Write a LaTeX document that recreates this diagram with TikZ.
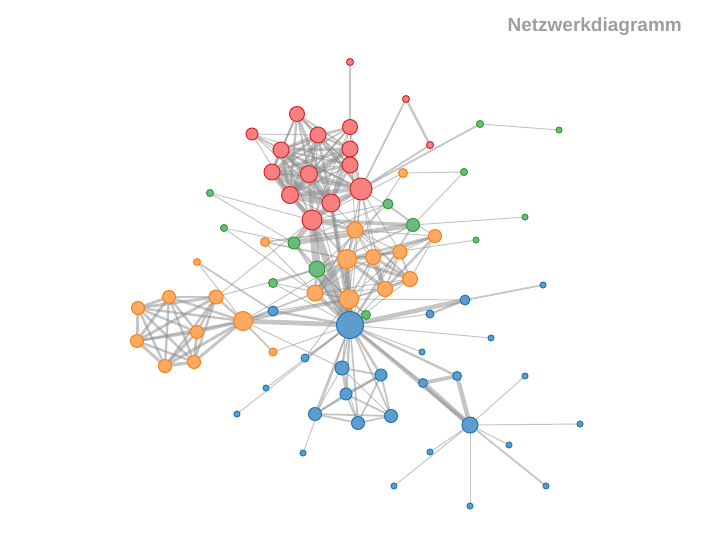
\documentclass[tikz,border=0pt]{standalone}
\usepackage{fontspec}
\newfontfamily\titlefont{Liberation Sans}
\pgfdeclarelayer{bg}
\pgfsetlayers{bg,main}
\definecolor{rf}{RGB}{248,128,128}
\definecolor{rs}{RGB}{214,39,40}
\definecolor{of}{RGB}{255,170,100}
\definecolor{os}{RGB}{255,127,14}
\definecolor{gf}{RGB}{108,186,130}
\definecolor{gs}{RGB}{44,160,44}
\definecolor{bf}{RGB}{92,157,206}
\definecolor{bs}{RGB}{31,119,180}
\tikzset{
  nd/.style={circle, inner sep=0pt, outer sep=0pt, line width=1pt, minimum size=#1},
  rn/.style={nd=#1, fill=rf, draw=rs},
  on/.style={nd=#1, fill=of, draw=os},
  gn/.style={nd=#1, fill=gf, draw=gs},
  bn/.style={nd=#1, fill=bf, draw=bs},
  lk/.style={draw=black!45, opacity=0.5},
  ttl/.style={anchor=base east, inner sep=0pt, text=black!38, font=\titlefont\bfseries\fontsize{19}{22}\selectfont}
}
\newcommand\N[5]{\node[#1=#5pt] (#2) at (#3,#4) {};}
\newcommand\E[3]{\pgfmathsetmacro\lw{1.9*sqrt(#3)-0.9}\draw[lk,line width=\lw pt] (#1) -- (#2);}
\begin{document}
\begin{tikzpicture}[x=1pt,y=-1pt]
\useasboundingbox (0,0) rectangle (718,539);
\node[ttl] (title) at (682,31) {Netzwerkdiagramm};
% blue
\N{bn}{val}{350}{325}{27}
\N{bn}{myr}{470}{425}{16}
\N{bn}{nap}{525}{376}{6}
\N{bn}{cdl}{580}{424}{6}
\N{bn}{geb}{509}{445}{6}
\N{bn}{cha}{430}{452}{6}
\N{bn}{cra}{394}{486}{6}
\N{bn}{cnt}{546}{486}{6}
\N{bn}{old}{470}{506}{6}
\N{bn}{bap}{457}{376}{9}
\N{bn}{mag}{423}{383}{9}
\N{bn}{lab}{491}{338}{6}
\N{bn}{mdr}{422}{352}{6}
\N{bn}{isa}{266}{388}{6}
\N{bn}{ger}{237}{414}{6}
\N{bn}{fau}{465}{300}{10}
\N{bn}{gri}{543}{285}{6}
\N{bn}{min}{430}{314}{8}
\N{bn}{sim}{273}{311}{10}
\N{bn}{wo1}{305}{358}{8}
\N{bn}{bam}{342}{368}{14}
\N{bn}{jud}{381}{375}{12}
\N{bn}{chm}{346}{394}{12}
\N{bn}{bre}{315}{414}{13}
\N{bn}{che}{358}{423}{13}
\N{bn}{coc}{391}{416}{13}
\N{bn}{sca}{303}{453}{6}
% orange
\N{on}{pon}{403}{173}{9}
\N{on}{anz}{265}{242}{9}
\N{on}{epo}{355}{230}{16}
\N{on}{bru}{435}{236}{13}
\N{on}{mon}{400}{252}{14}
\N{on}{the}{347}{259}{19}
\N{on}{bab}{373}{257}{15}
\N{on}{cla}{410}{279}{15}
\N{on}{gue}{385}{289}{15}
\N{on}{mth}{315}{293}{16}
\N{on}{jav}{349}{299}{19}
\N{on}{per}{197}{262}{7}
\N{on}{mgt}{273}{352}{8}
\N{on}{lis}{169}{297}{13}
\N{on}{tho}{216}{297}{14}
\N{on}{fam}{138}{308}{13}
\N{on}{zep}{197}{332}{13}
\N{on}{bla}{137}{341}{13}
\N{on}{fav}{165}{366}{13}
\N{on}{dah}{194}{362}{13}
\N{on}{fan}{243}{321}{19}
% green
\N{gn}{mbu}{480}{124}{7}
\N{gn}{jon}{559}{130}{6}
\N{gn}{mpo}{464}{172}{7}
\N{gn}{bar}{210}{193}{7}
\N{gn}{ltg}{388}{204}{10}
\N{gn}{mgi}{413}{225}{13}
\N{gn}{mgn}{224}{228}{7}
\N{gn}{vau}{525}{217}{6}
\N{gn}{bou}{476}{240}{6}
\N{gn}{gil}{294}{243}{12}
\N{gn}{cos}{317}{269}{16}
\N{gn}{tou}{273}{283}{9}
\N{gn}{wo2}{366}{315}{9}
% red
\N{rn}{plu}{350}{62}{7}
\N{rn}{ch1}{406}{99}{7}
\N{rn}{ch2}{430}{145}{7}
\N{rn}{pro}{297}{114}{15}
\N{rn}{huc}{252}{134}{12}
\N{rn}{bah}{318}{135}{16}
\N{rn}{mab}{350}{127}{15}
\N{rn}{jol}{281}{150}{16}
\N{rn}{feu}{350}{149}{16}
\N{rn}{gra}{350}{165}{16}
\N{rn}{com}{272}{172}{16}
\N{rn}{bos}{309}{174}{17}
\N{rn}{gav}{361}{189}{22}
\N{rn}{crf}{290}{195}{17}
\N{rn}{enj}{331}{203}{18}
\N{rn}{mrs}{312}{220}{20}
\begin{pgfonlayer}{bg}
\E{nap}{myr}{1}\E{bap}{myr}{8}\E{mag}{myr}{10}\E{mag}{bap}{6}
\E{cdl}{myr}{1}\E{geb}{myr}{1}\E{cha}{myr}{1}\E{cra}{myr}{1}
\E{cnt}{myr}{2}\E{old}{myr}{1}
\E{val}{lab}{1}\E{val}{mag}{3}\E{val}{bap}{3}\E{val}{myr}{5}
\E{mgt}{val}{1}\E{mdr}{val}{1}\E{isa}{val}{1}\E{ger}{val}{1}
\E{lis}{tho}{4}\E{fam}{tho}{4}\E{fam}{lis}{4}
\E{bla}{tho}{4}\E{bla}{lis}{4}\E{bla}{fam}{4}
\E{fav}{tho}{3}\E{fav}{lis}{3}\E{fav}{fam}{3}\E{fav}{bla}{4}
\E{dah}{tho}{3}\E{dah}{lis}{3}\E{dah}{fam}{3}\E{dah}{bla}{3}\E{dah}{fav}{5}
\E{zep}{tho}{3}\E{zep}{lis}{3}\E{zep}{fam}{3}\E{zep}{bla}{3}\E{zep}{fav}{4}\E{zep}{dah}{4}
\E{fan}{tho}{3}\E{fan}{lis}{3}\E{fan}{fam}{3}\E{fan}{bla}{3}\E{fan}{fav}{4}\E{fan}{dah}{4}\E{fan}{zep}{4}
\E{fan}{mgt}{2}\E{fan}{val}{9}
\E{mth}{fan}{2}\E{mth}{val}{7}
\E{the}{mth}{13}\E{the}{fan}{1}\E{the}{val}{12}
\E{cos}{mth}{4}\E{cos}{val}{31}\E{cos}{tho}{1}\E{cos}{the}{1}
\E{jav}{val}{17}\E{jav}{fan}{5}\E{jav}{the}{5}\E{jav}{mth}{1}\E{jav}{cos}{1}
\E{fau}{val}{8}\E{fau}{jav}{1}
\E{bam}{fan}{1}\E{bam}{jav}{1}\E{bam}{val}{2}
\E{per}{fan}{1}
\E{sim}{per}{2}\E{sim}{val}{3}\E{sim}{fan}{2}\E{sim}{jav}{1}
\E{sca}{val}{1}
\E{wo1}{val}{2}\E{wo1}{jav}{1}
\E{jud}{val}{3}\E{jud}{bam}{2}
\E{chm}{val}{3}\E{chm}{jud}{3}\E{chm}{bam}{2}
\E{bre}{jud}{2}\E{bre}{chm}{2}\E{bre}{val}{2}\E{bre}{bam}{1}
\E{che}{jud}{2}\E{che}{chm}{2}\E{che}{bre}{2}\E{che}{val}{2}\E{che}{bam}{1}
\E{coc}{jud}{2}\E{coc}{chm}{2}\E{coc}{bre}{2}\E{coc}{che}{2}\E{coc}{val}{2}\E{coc}{bam}{1}
\E{pon}{the}{1}\E{bou}{the}{1}
\E{epo}{mth}{2}\E{epo}{the}{3}
\E{anz}{epo}{2}\E{anz}{the}{2}\E{anz}{mth}{1}
\E{wo2}{val}{3}\E{wo2}{cos}{1}\E{wo2}{jav}{1}
\E{min}{fau}{3}\E{min}{val}{1}\E{gri}{fau}{2}
\E{mbu}{jon}{1}
\E{gav}{mbu}{2}\E{gav}{the}{1}\E{gav}{jav}{1}\E{gav}{val}{1}
\E{gil}{cos}{3}\E{gil}{val}{2}
\E{mgn}{gil}{1}\E{mgn}{mth}{1}
\E{mgi}{gil}{9}\E{mgi}{cos}{2}\E{mgi}{val}{2}
\E{mpo}{mgi}{1}\E{mpo}{pon}{1}
\E{vau}{mgi}{1}
\E{ltg}{mgi}{1}\E{ltg}{gil}{1}\E{ltg}{cos}{1}
\E{mrs}{mgi}{6}\E{mrs}{gil}{12}\E{mrs}{pon}{1}\E{mrs}{ltg}{1}\E{mrs}{cos}{21}
\E{mrs}{val}{19}\E{mrs}{tho}{1}\E{mrs}{the}{2}\E{mrs}{epo}{5}\E{mrs}{gav}{4}
\E{bar}{gil}{1}\E{bar}{mrs}{1}
\E{mab}{mrs}{1}\E{mab}{epo}{1}\E{mab}{gav}{1}
\E{enj}{mrs}{7}\E{enj}{gav}{7}\E{enj}{jav}{6}\E{enj}{mab}{1}\E{enj}{val}{4}
\E{com}{enj}{15}\E{com}{mrs}{5}\E{com}{gav}{6}\E{com}{mab}{2}
\E{pro}{gav}{1}\E{pro}{enj}{4}\E{pro}{com}{2}
\E{feu}{gav}{2}\E{feu}{enj}{6}\E{feu}{pro}{2}\E{feu}{com}{5}\E{feu}{mab}{1}\E{feu}{mrs}{1}
\E{crf}{mrs}{9}\E{crf}{enj}{17}\E{crf}{com}{13}\E{crf}{gav}{7}\E{crf}{mab}{2}
\E{crf}{epo}{1}\E{crf}{feu}{6}\E{crf}{pro}{3}
\E{bah}{com}{5}\E{bah}{gav}{5}\E{bah}{crf}{6}\E{bah}{mab}{2}\E{bah}{enj}{4}
\E{bah}{feu}{3}\E{bah}{pro}{2}\E{bah}{mrs}{1}
\E{bos}{mrs}{5}\E{bos}{crf}{12}\E{bos}{gav}{5}\E{bos}{bah}{4}\E{bos}{enj}{10}
\E{bos}{feu}{6}\E{bos}{pro}{2}\E{bos}{com}{9}\E{bos}{mab}{1}\E{bos}{val}{1}
\E{jol}{bah}{5}\E{jol}{bos}{7}\E{jol}{gav}{3}\E{jol}{crf}{5}\E{jol}{enj}{5}
\E{jol}{feu}{5}\E{jol}{pro}{2}\E{jol}{com}{5}\E{jol}{mab}{1}\E{jol}{mrs}{2}
\E{gra}{bos}{3}\E{gra}{enj}{3}\E{gra}{com}{1}\E{gra}{crf}{2}\E{gra}{jol}{2}
\E{gra}{gav}{1}\E{gra}{bah}{1}\E{gra}{feu}{1}\E{gra}{pro}{1}
\E{plu}{mab}{3}
\E{gue}{the}{5}\E{gue}{val}{1}\E{gue}{mth}{1}\E{gue}{jav}{1}\E{gue}{gav}{1}\E{gue}{epo}{1}
\E{bab}{the}{6}\E{bab}{gue}{6}\E{bab}{val}{1}\E{bab}{mth}{1}\E{bab}{jav}{2}\E{bab}{gav}{1}\E{bab}{epo}{1}
\E{cla}{the}{4}\E{cla}{bab}{4}\E{cla}{gue}{4}\E{cla}{val}{1}\E{cla}{mth}{1}
\E{cla}{jav}{1}\E{cla}{epo}{1}\E{cla}{enj}{1}
\E{mon}{jav}{1}\E{mon}{bab}{2}\E{mon}{gue}{2}\E{mon}{cla}{2}\E{mon}{val}{1}
\E{mon}{gav}{1}\E{mon}{epo}{1}\E{mon}{the}{1}
\E{tou}{cos}{2}\E{tou}{jav}{1}\E{tou}{val}{1}
\E{ch1}{gav}{2}\E{ch2}{gav}{2}\E{ch2}{ch1}{3}
\E{bru}{bab}{3}\E{bru}{gue}{3}\E{bru}{the}{3}\E{bru}{gav}{1}\E{bru}{epo}{1}
\E{bru}{cla}{1}\E{bru}{mon}{1}
\E{huc}{bos}{1}\E{huc}{jol}{1}\E{huc}{gra}{1}\E{huc}{bah}{1}\E{huc}{crf}{1}
\E{huc}{gav}{1}\E{huc}{enj}{1}
\end{pgfonlayer}
\end{tikzpicture}
\end{document}
